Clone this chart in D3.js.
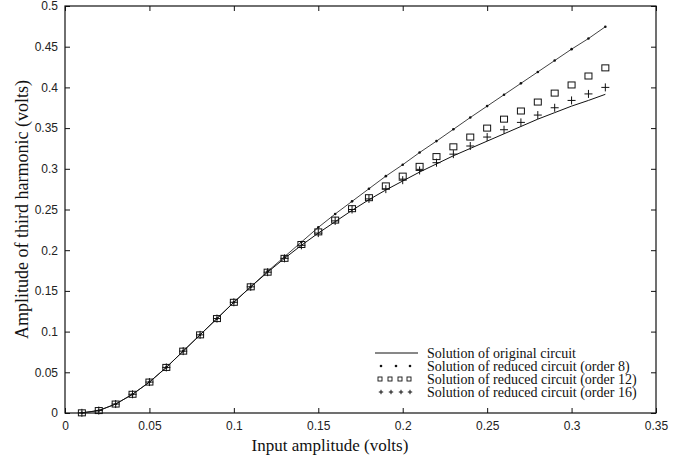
<!DOCTYPE html>
<html>
<head>
<meta charset="utf-8">
<script src="https://cdn.jsdelivr.net/npm/d3@7"></script>
<style>
  body { margin: 0; background: white; }
  .tick text { font-family: "Liberation Sans", Arial, sans-serif; font-size: 12px; fill: #222; }
</style>
</head>
<body>
<div id="chart"></div>
<script>
// input amplitudes (volts)
const inputs = [0.01,0.02,0.03,0.04,0.05,0.06,0.07,0.08,0.09,0.10,0.11,0.12,0.13,0.14,0.15,0.16,
  0.17,0.18,0.19,0.20,0.21,0.22,0.23,0.24,0.25,0.26,0.27,0.28,0.29,0.30,0.31,0.32];

// original circuit (solid line)
const original = [0.0002,0.003,0.011,0.023,0.038,0.056,0.076,0.096,0.116,0.136,0.155,0.173,0.190,0.206,0.221,0.235,
  0.249,0.262,0.274,0.285,0.296,0.306,0.316,0.325,0.334,0.343,0.352,0.361,0.369,0.377,0.384,0.3915];
// reduced circuit, order 8 (dots)
const order8 = [0.0002,0.003,0.011,0.023,0.038,0.056,0.076,0.096,0.116,0.136,0.155,0.174,0.192,0.210,0.228,0.2445,
  0.260,0.2755,0.291,0.305,0.320,0.334,0.3485,0.363,0.377,0.391,0.405,0.419,0.433,0.447,0.460,0.4745];
// reduced circuit, order 12 (squares)
const order12 = [0.0002,0.003,0.011,0.023,0.038,0.056,0.076,0.096,0.116,0.136,0.155,0.173,0.190,0.207,0.2225,0.237,
  0.251,0.2645,0.279,0.291,0.303,0.315,0.327,0.339,0.350,0.361,0.371,0.382,0.393,0.403,0.414,0.424];
// reduced circuit, order 16 (plus signs)
const order16 = [0.0002,0.003,0.011,0.023,0.038,0.056,0.076,0.096,0.116,0.136,0.155,0.173,0.190,0.206,0.221,0.236,
  0.250,0.263,0.275,0.286,0.298,0.3075,0.318,0.328,0.339,0.348,0.357,0.366,0.375,0.384,0.392,0.400];

const xTicks = [0,0.05,0.1,0.15,0.2,0.25,0.3,0.35];
const yTicks = [0,0.05,0.1,0.15,0.2,0.25,0.3,0.35,0.4,0.45,0.5];
const legendLabels = ['Solution of original circuit','Solution of reduced circuit (order 8)',
  'Solution of reduced circuit (order 12)','Solution of reduced circuit (order 16)'];

const width = 684, height = 467;
const margin = { top: 6, right: 28, bottom: 54, left: 65 };
const ink = '#111';
const serif = '"Liberation Serif", "Times New Roman", serif';

const svg = d3.select('#chart').append('svg')
  .attr('width', width).attr('height', height);

const x = d3.scaleLinear().domain([0, 0.35]).range([margin.left, width - margin.right]);
const y = d3.scaleLinear().domain([0, 0.5]).range([height - margin.bottom, margin.top]);

const fmt = d => d === 0 ? '0' : String(+d.toFixed(2));

// axes, MATLAB style: ticks inside on all four sides
svg.append('g').attr('transform', `translate(0,${y(0)})`)
  .call(d3.axisBottom(x).tickValues(xTicks).tickFormat(fmt).tickSizeInner(-5).tickSizeOuter(0).tickPadding(8))
  .call(g => g.select('.domain').remove());
svg.append('g').attr('transform', `translate(0,${y(0.5)})`)
  .call(d3.axisTop(x).tickValues(xTicks).tickFormat('').tickSizeInner(-5).tickSizeOuter(0))
  .call(g => g.select('.domain').remove());
svg.append('g').attr('transform', `translate(${x(0)},0)`)
  .call(d3.axisLeft(y).tickValues(yTicks).tickFormat(fmt).tickSizeInner(-5).tickSizeOuter(0).tickPadding(7))
  .call(g => g.select('.domain').remove());
svg.append('g').attr('transform', `translate(${x(0.35)},0)`)
  .call(d3.axisRight(y).tickValues(yTicks).tickFormat('').tickSizeInner(-5).tickSizeOuter(0))
  .call(g => g.select('.domain').remove());
svg.selectAll('.tick line').attr('stroke', ink);

svg.append('rect')
  .attr('x', x(0)).attr('y', y(0.5))
  .attr('width', x(0.35) - x(0)).attr('height', y(0) - y(0.5))
  .attr('fill', 'none').attr('stroke', ink).attr('stroke-width', 1.2);

const line = d3.line().x(d => x(d[0])).y(d => y(d[1]));

svg.append('path')
  .datum(d3.zip(inputs, original))
  .attr('d', line).attr('fill', 'none').attr('stroke', ink).attr('stroke-width', 1);

svg.append('path')
  .datum(d3.zip(inputs, order8))
  .attr('d', line).attr('fill', 'none').attr('stroke', ink).attr('stroke-width', 0.8);

svg.append('g').selectAll('circle')
  .data(d3.zip(inputs, order8)).enter().append('circle')
  .attr('cx', d => x(d[0])).attr('cy', d => y(d[1]))
  .attr('r', 1.3).attr('fill', ink);

svg.append('g').selectAll('rect')
  .data(d3.zip(inputs, order12)).enter().append('rect')
  .attr('x', d => x(d[0]) - 3.5).attr('y', d => y(d[1]) - 3)
  .attr('width', 7).attr('height', 6)
  .attr('fill', 'none').attr('stroke', ink).attr('stroke-width', 1);

const plus = (g, cx, cy, s) => g.append('path')
  .attr('d', `M${cx - s},${cy}H${cx + s}M${cx},${cy - s}V${cy + s}`)
  .attr('stroke', ink).attr('stroke-width', 1).attr('fill', 'none');

const plusG = svg.append('g');
d3.zip(inputs, order16).forEach(d => plus(plusG, x(d[0]), y(d[1]), 4));

// legend
const lx = 375, ly = 353, lh = 13;
const leg = svg.append('g');
legendLabels.forEach((t, i) => {
  leg.append('text').attr('x', lx + 52).attr('y', ly + i * lh).attr('dy', '0.35em')
    .style('font-family', serif)
    .style('font-size', '14px').attr('fill', ink).text(t);
});
leg.append('line').attr('x1', lx).attr('x2', lx + 43).attr('y1', ly).attr('y2', ly)
  .attr('stroke', ink).attr('stroke-width', 1);
[6, 21, 35].forEach(dx => leg.append('circle').attr('cx', lx + dx).attr('cy', ly + lh).attr('r', 1.3).attr('fill', ink));
[5, 15, 25, 34].forEach(dx => leg.append('rect').attr('x', lx + dx - 2).attr('y', ly + 2 * lh - 2)
  .attr('width', 4).attr('height', 4).attr('fill', 'none').attr('stroke', ink).attr('stroke-width', 0.9));
[6, 16, 26, 35].forEach(dx => plus(leg, lx + dx, ly + 3 * lh, 2.2));

// axis titles
svg.append('text')
  .attr('x', 330).attr('y', 451)
  .attr('text-anchor', 'middle')
  .style('font-family', serif)
  .style('font-size', '17px').attr('fill', ink)
  .text('Input amplitude (volts)');

svg.append('text')
  .attr('text-anchor', 'middle')
  .attr('transform', `translate(28,${(y(0) + y(0.5)) / 2})rotate(-90)`)
  .style('font-family', serif)
  .style('font-size', '18px').attr('fill', ink)
  .text('Amplitude of third harmonic (volts)');
</script>
</body>
</html>
